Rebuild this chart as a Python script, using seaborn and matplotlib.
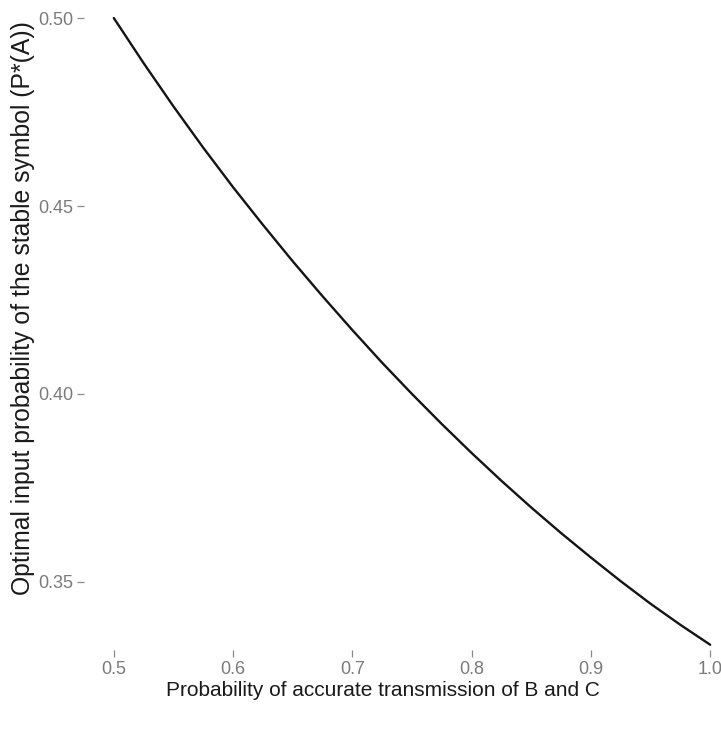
import matplotlib
matplotlib.use("Agg")
import matplotlib.pyplot as plt
import seaborn as sns
import pandas as pd

# Accuracy of transmission for symbols B and C
accuracy = [0.500, 0.525, 0.550, 0.575, 0.600, 0.625, 0.650, 0.675, 0.700,
            0.725, 0.750, 0.775, 0.800, 0.825, 0.850, 0.875, 0.900, 0.925,
            0.950, 0.975, 1.000]
# Optimal input probability of the stable symbol A
p_star_a = [0.5000, 0.4880, 0.4765, 0.4655, 0.4550, 0.4450, 0.4353, 0.4260,
            0.4170, 0.4083, 0.4000, 0.3920, 0.3843, 0.3769, 0.3698, 0.3630,
            0.3565, 0.3502, 0.3442, 0.3386, 0.3333]

x_ticks = [0.5, 0.6, 0.7, 0.8, 0.9, 1.0]
y_ticks = [0.35, 0.40, 0.45, 0.50]

df = pd.DataFrame({"accuracy": accuracy, "p_star_a": p_star_a})

sns.set_style("white")
plt.rcParams["font.family"] = ["Liberation Sans", "DejaVu Sans"]

W, H = 721, 730
fig = plt.figure(figsize=(W / 100, H / 100), dpi=100)
fig.patch.set_facecolor("white")

# panel placed in pixel units (left, top, right, bottom)
left_px, top_px, right_px, bottom_px = 84, 0, 740, 650
ax = fig.add_axes([left_px / W, (H - bottom_px) / H,
                   (right_px - left_px) / W, (bottom_px - top_px) / H])
ax.set_facecolor("white")

sns.lineplot(data=df, x="accuracy", y="p_star_a", ax=ax,
             color="#141414", linewidth=1.7)

ax.set_xlim(0.475, 1.025)
ax.set_ylim(0.3319, 0.5048)

ax.set_xticks(x_ticks)
ax.set_xticklabels([f"{v:.1f}" for v in x_ticks])
ax.set_yticks(y_ticks)
ax.set_yticklabels([f"{v:.2f}" for v in y_ticks])

for s in ax.spines.values():
    s.set_visible(False)

ax.tick_params(axis="both", which="major", length=5, width=0.9,
               color="#8a8a8a", labelcolor="#7a7a7a", labelsize=13,
               direction="out", pad=3, bottom=True, left=True)

ax.set_xlabel("")
ax.set_ylabel("")
fig.text(383 / W, 1 - 690 / H, "Probability of accurate transmission of B and C",
         ha="center", va="center", fontsize=15, color="#1a1a1a")
fig.text(23 / W, 1 - 308 / H,
         "Optimal input probability of the stable symbol (P*(A))",
         ha="center", va="center", rotation=90, fontsize=17.8, color="#1a1a1a")

fig.savefig("out.png", dpi=100, facecolor="white")
